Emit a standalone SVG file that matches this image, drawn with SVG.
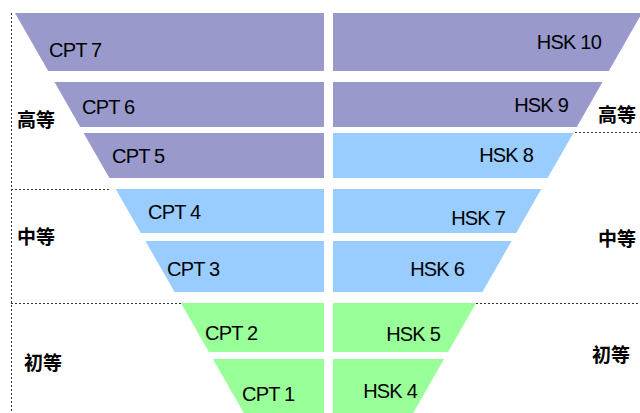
<svg xmlns="http://www.w3.org/2000/svg" width="640" height="413" viewBox="0 0 640 413">
<style>
.p{fill:#9999CC}
.b{fill:#99CCFF}
.g{fill:#99FF99}
.t{font-family:"Liberation Sans",Arial,sans-serif;font-size:20px;letter-spacing:-0.8px;fill:#000}
.r{text-anchor:end}
.c{font-family:"Noto Sans CJK SC","Liberation Sans",sans-serif;font-size:19px;font-weight:bold;fill:#000}
.d{stroke:#333;stroke-width:1;stroke-dasharray:2 2;fill:none}
</style>
<rect width="640" height="413" fill="#fff"/>
<g id="separators">
<line class="d" x1="11.5" y1="13" x2="11.5" y2="413"/>
<line class="d" x1="11" y1="189.5" x2="110" y2="189.5"/>
<line class="d" x1="11" y1="303.5" x2="182" y2="303.5"/>
<line class="d" x1="575" y1="132.5" x2="640" y2="132.5"/>
<line class="d" x1="472" y1="303.5" x2="640" y2="303.5"/>
</g>
<g id="cpt7"><polygon class="p" points="15,13 324,13 324,71 48.2,71"/><text class="t" x="49" y="57">CPT 7</text></g>
<g id="cpt6"><polygon class="p" points="54.5,82 324,82 324,127 80.2,127"/><text class="t" x="82" y="114">CPT 6</text></g>
<g id="cpt5"><polygon class="p" points="83.6,133 324,133 324,178 109.4,178"/><text class="t" x="112" y="163">CPT 5</text></g>
<g id="cpt4"><polygon class="b" points="115.7,189 324,189 324,233 140.8,233"/><text class="t" x="148" y="219">CPT 4</text></g>
<g id="cpt3"><polygon class="b" points="145.4,241 324,241 324,292 174.6,292"/><text class="t" x="167" y="276">CPT 3</text></g>
<g id="cpt2"><polygon class="g" points="180.9,303 324,303 324,352 208.9,352"/><text class="t" x="205" y="340">CPT 2</text></g>
<g id="cpt1"><polygon class="g" points="212.9,359 324,359 324,413 243.8,413"/><text class="t" x="242" y="401">CPT 1</text></g>
<g id="hsk10"><polygon class="p" points="333,13 642,13 608.8,71 333,71"/><text class="t r" x="601" y="49">HSK 10</text></g>
<g id="hsk9"><polygon class="p" points="333,82 602.5,82 576.8,127 333,127"/><text class="t r" x="568" y="112">HSK 9</text></g>
<g id="hsk8"><polygon class="b" points="333,133 573.4,133 547.6,178 333,178"/><text class="t r" x="533" y="162">HSK 8</text></g>
<g id="hsk7"><polygon class="b" points="333,189 541.3,189 516.2,233 333,233"/><text class="t r" x="505" y="225">HSK 7</text></g>
<g id="hsk6"><polygon class="b" points="333,241 511.6,241 482.4,292 333,292"/><text class="t r" x="464" y="276">HSK 6</text></g>
<g id="hsk5"><polygon class="g" points="333,303 476.1,303 448.1,352 333,352"/><text class="t r" x="440" y="341">HSK 5</text></g>
<g id="hsk4"><polygon class="g" points="333,359 444.1,359 413.2,413 333,413"/><text class="t r" x="417" y="398">HSK 4</text></g>
<g id="level-high-left"><text class="c" x="17" y="127">高等</text></g>
<g id="level-high-right"><text class="c" x="598" y="122">高等</text></g>
<g id="level-mid-left"><text class="c" x="17" y="244">中等</text></g>
<g id="level-mid-right"><text class="c" x="598" y="246">中等</text></g>
<g id="level-low-left"><text class="c" x="24" y="370">初等</text></g>
<g id="level-low-right"><text class="c" x="592" y="362">初等</text></g>
</svg>
